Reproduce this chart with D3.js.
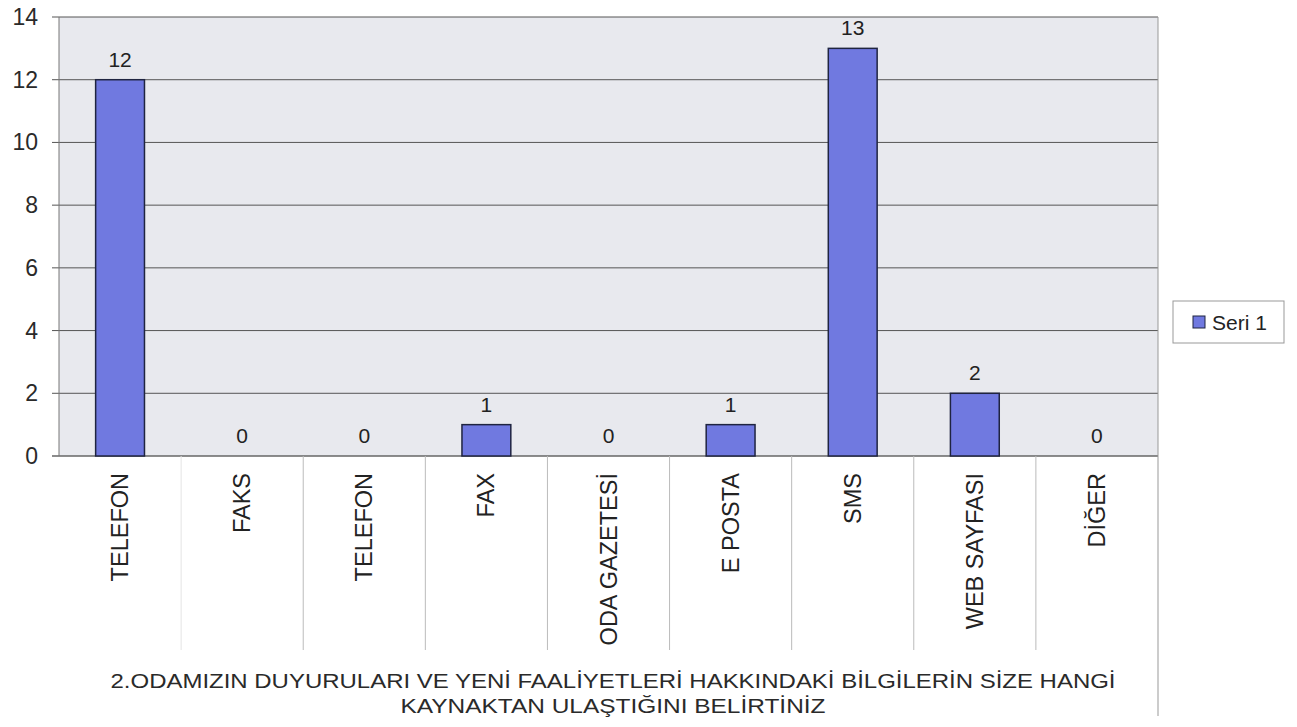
<!DOCTYPE html>
<html>
<head>
<meta charset="utf-8">
<script src="https://cdn.jsdelivr.net/npm/d3@7"></script>
<style>
  body { margin: 0; background: #fff; }
  text { font-family: "Liberation Sans", Arial, sans-serif; }
</style>
</head>
<body>
<svg id="chart" width="1297" height="727"></svg>
<script>
// data
const categories = ["TELEFON", "FAKS", "TELEFON ", "FAX", "ODA GAZETESİ", "E POSTA", "SMS", "WEB SAYFASI", "DİĞER"];
const values = [12, 0, 0, 1, 0, 1, 13, 2, 0];
const yTicks = [0, 2, 4, 6, 8, 10, 12, 14];
const seriesName = "Seri 1";
const titleLines = [
  "2.ODAMIZIN DUYURULARI VE YENİ FAALİYETLERİ HAKKINDAKİ BİLGİLERİN SİZE HANGİ",
  "KAYNAKTAN ULAŞTIĞINI BELİRTİNİZ"
];

const svg = d3.select("#chart");
const margin = { top: 17, left: 59, right: 1158, bottom: 456 };

const x = d3.scaleBand()
  .domain(categories)
  .range([margin.left, margin.right]);

const y = d3.scaleLinear()
  .domain([0, 14])
  .range([margin.bottom, margin.top]);

// plot background
svg.append("rect")
  .attr("x", margin.left).attr("y", margin.top)
  .attr("width", margin.right - margin.left)
  .attr("height", margin.bottom - margin.top)
  .attr("fill", "#e8e9ee");

// grid lines
svg.selectAll("line.grid")
  .data(yTicks)
  .join("line")
    .attr("class", "grid")
    .attr("x1", margin.left - 7)
    .attr("x2", margin.right)
    .attr("y1", d => y(d))
    .attr("y2", d => y(d))
    .attr("stroke", d => d === 0 ? "#666" : "#555")
    .attr("stroke-width", d => d === 0 ? 1.5 : 1);

// y labels
svg.selectAll("text.ytick")
  .data(yTicks)
  .join("text")
    .attr("class", "ytick")
    .attr("x", 38)
    .attr("y", d => y(d))
    .attr("text-anchor", "end")
    .attr("dominant-baseline", "central")
    .attr("font-size", "23px")
    .attr("fill", "#2a2a2a")
    .text(d => d);

// axis lines
svg.append("line")
  .attr("x1", margin.left).attr("x2", margin.left)
  .attr("y1", margin.top).attr("y2", margin.bottom)
  .attr("stroke", "#777");
svg.append("line")
  .attr("x1", margin.right).attr("x2", margin.right)
  .attr("y1", margin.top).attr("y2", 716)
  .attr("stroke", "#999");

// category separators below axis
svg.selectAll("line.sep")
  .data(categories.slice(1))
  .join("line")
    .attr("class", "sep")
    .attr("x1", d => x(d)).attr("x2", d => x(d))
    .attr("y1", margin.bottom)
    .attr("y2", 650)
    .attr("stroke", (d, i) => i === 0 ? "#e4e4e4" : "#bbb");

// bars
const barW = x.bandwidth() * 0.4;
svg.selectAll("rect.bar")
  .data(values)
  .join("rect")
    .attr("class", "bar")
    .attr("x", (d, i) => x(categories[i]) + (x.bandwidth() - barW) / 2)
    .attr("y", d => y(d))
    .attr("width", barW)
    .attr("height", d => y(0) - y(d))
    .attr("fill", "#7079e0")
    .attr("stroke", "#1f2440")
    .attr("stroke-width", 1.5);

// value labels
svg.selectAll("text.val")
  .data(values)
  .join("text")
    .attr("class", "val")
    .attr("x", (d, i) => x(categories[i]) + x.bandwidth() / 2)
    .attr("y", d => y(d) - 13)
    .attr("text-anchor", "middle")
    .attr("font-size", "21px")
    .attr("fill", "#222")
    .text(d => d);

// category labels
svg.selectAll("text.cat")
  .data(categories)
  .join("text")
    .attr("class", "cat")
    .attr("transform", d => `translate(${x(d) + x.bandwidth() / 2 + 8},473) rotate(-90)`)
    .attr("text-anchor", "end")
    .attr("font-size", "23.5px")
    .attr("fill", "#222")
    .text(d => d.trim());

// title
const titleWidths = [1005, 425];
svg.selectAll("text.title")
  .data(titleLines)
  .join("text")
    .attr("class", "title")
    .attr("x", 613)
    .attr("y", (d, i) => 688 + i * 25)
    .attr("text-anchor", "middle")
    .attr("font-size", "21px")
    .attr("fill", "#2a2a2a")
    .attr("textLength", (d, i) => titleWidths[i])
    .attr("lengthAdjust", "spacingAndGlyphs")
    .text(d => d);

// legend
const lg = svg.append("g").attr("transform", "translate(1173,301)");
lg.append("rect")
  .attr("width", 111).attr("height", 42)
  .attr("fill", "#fff")
  .attr("stroke", "#999");
lg.append("rect")
  .attr("x", 20).attr("y", 15)
  .attr("width", 12).attr("height", 12)
  .attr("fill", "#7079e0")
  .attr("stroke", "#1f2440");
lg.append("text")
  .attr("x", 39).attr("y", 21)
  .attr("dominant-baseline", "central")
  .attr("font-size", "21px")
  .attr("fill", "#222")
  .text(seriesName);
</script>
</body>
</html>
